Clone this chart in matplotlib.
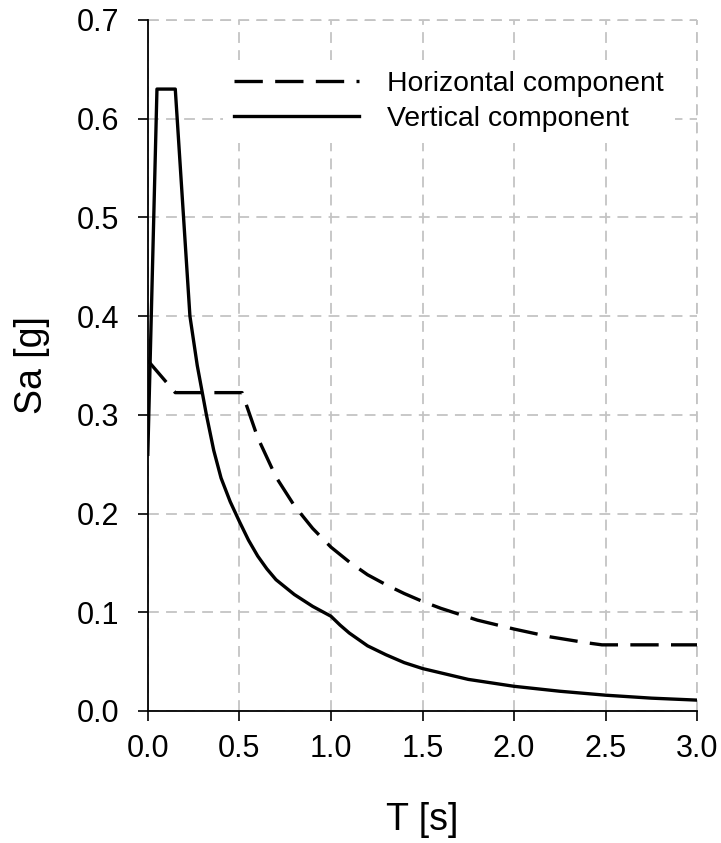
import matplotlib
matplotlib.use("Agg")
import matplotlib.pyplot as plt

plt.rcParams['font.family'] = ['Liberation Sans', 'DejaVu Sans']

# horizontal component (dashed)
T_h = [0.0, 0.15, 0.515, 0.6, 0.7, 0.8, 0.9, 1.0, 1.1, 1.2, 1.3, 1.4, 1.5, 1.6,
       1.8, 2.0, 2.2, 2.4, 2.48, 3.0]
Sa_h = [0.355, 0.3225, 0.3225, 0.277, 0.237, 0.208, 0.185, 0.166, 0.151, 0.138,
        0.128, 0.119, 0.111, 0.104, 0.092, 0.083, 0.075, 0.069, 0.067, 0.067]

# vertical component (solid)
T_v = [0.0, 0.05, 0.15, 0.23, 0.27, 0.32, 0.36, 0.40, 0.45, 0.50, 0.55, 0.60,
       0.65, 0.70, 0.80, 0.90, 1.00, 1.05, 1.10, 1.20, 1.30, 1.40, 1.50, 1.75,
       2.00, 2.25, 2.50, 2.75, 3.00]
Sa_v = [0.26, 0.63, 0.63, 0.40, 0.35, 0.30, 0.264, 0.236, 0.212, 0.192, 0.173,
        0.157, 0.144, 0.133, 0.118, 0.106, 0.096, 0.087, 0.079, 0.066, 0.057,
        0.049, 0.043, 0.032, 0.025, 0.020, 0.016, 0.013, 0.011]

xticks = [0.0, 0.5, 1.0, 1.5, 2.0, 2.5, 3.0]
yticks = [0.0, 0.1, 0.2, 0.3, 0.4, 0.5, 0.6, 0.7]

fig = plt.figure(figsize=(7.21, 8.43), dpi=100)
ax = fig.add_axes([0.205, 0.1566, 0.762, 0.8197])

ax.plot(T_h, Sa_h, color='black', lw=2.4, dashes=(8.5, 3.7), label='Horizontal component')
ax.plot(T_v, Sa_v, color='black', lw=2.4, label='Vertical component')

ax.set_xlim(0, 3.0)
ax.set_ylim(0, 0.7)
ax.set_xticks(xticks)
ax.set_yticks(yticks)
ax.set_xticklabels(['%.1f' % t for t in xticks])
ax.set_yticklabels(['%.1f' % t for t in yticks])
ax.tick_params(labelsize=22, length=7.5, width=1.2, direction='out')
ax.tick_params(axis='x', pad=9)
ax.tick_params(axis='y', pad=13)

gridstyle = dict(color='#c4c4c4', linestyle=(0, (6, 4)), lw=1.3)
ax.grid(True, **gridstyle)
ax.set_axisbelow(True)
for s in ['top', 'right']:
    ax.spines[s].set_visible(False)
for s in ['left', 'bottom']:
    ax.spines[s].set_linewidth(1.3)

# dashed grid at the upper and right limits
ax.axhline(0.7, clip_on=False, zorder=0, **gridstyle)
ax.axvline(3.0, clip_on=False, zorder=0, **gridstyle)

ax.set_xlabel('T [s]', fontsize=27)
ax.set_ylabel('Sa [g]', fontsize=27)
ax.xaxis.set_label_coords(0.5, -0.131)
ax.yaxis.set_label_coords(-0.178, 0.5)

leg = ax.legend(loc='upper left', bbox_to_anchor=(223 / 721, 1 - 60 / 843),
                bbox_transform=fig.transFigure, fontsize=20.4, frameon=True,
                facecolor='white', edgecolor='none', framealpha=1, fancybox=False,
                handlelength=4.4, handletextpad=1.0, labelspacing=0.3,
                borderpad=0.4, borderaxespad=0)

fig.savefig('out.png', dpi=100)
